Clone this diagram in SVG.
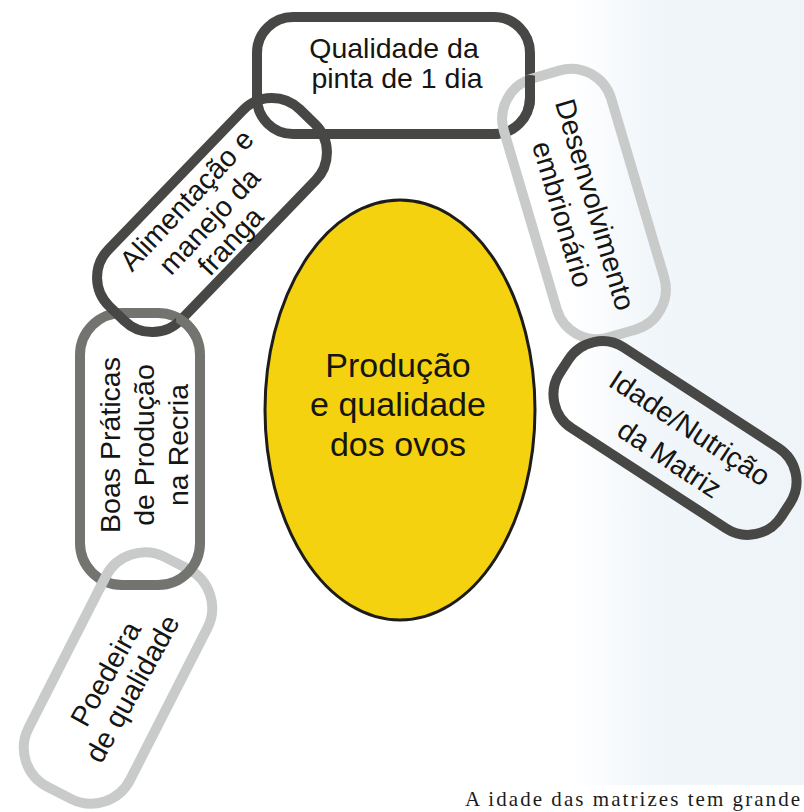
<svg xmlns="http://www.w3.org/2000/svg" xmlns:xlink="http://www.w3.org/1999/xlink" width="804" height="812" viewBox="0 0 804 812">
  <defs>
    <style>
      .lbl { font-family: "Liberation Sans", Arial, sans-serif; font-size: 28.5px; fill: #151514; text-anchor: middle; }
      .egg { font-family: "Liberation Sans", Arial, sans-serif; font-size: 34px; fill: #151514; text-anchor: middle; }
      .link { fill: none; stroke-width: 10; }
      .dark { stroke: #474845; }
      .mid { stroke: #737470; }
      .light { stroke: #c9cbcb; }
    </style>
    <linearGradient id="page" x1="0" y1="0" x2="1" y2="0">
      <stop offset="0" stop-color="#f1f6fa" stop-opacity="0"/>
      <stop offset="0.35" stop-color="#f1f6fa" stop-opacity="1"/>
      <stop offset="1" stop-color="#eef4f8"/>
    </linearGradient>
    <rect id="r-top" x="257" y="17" width="273" height="117" rx="36"/>
    <rect id="r-ali" x="-137" y="-50.5" width="274" height="101" rx="40" transform="translate(212,215) rotate(-46)"/>
    <rect id="r-boas" x="80" y="313" width="120" height="272" rx="42"/>
    <rect id="r-poe" x="-129" y="-57" width="258" height="114" rx="44" transform="translate(118,678) rotate(-63)"/>
    <rect id="r-des" x="-135" y="-56" width="270" height="112" rx="42" transform="translate(584,204) rotate(73.5)"/>
    <rect id="r-ida" x="-132" y="-48" width="264" height="96" rx="40" transform="translate(675,438) rotate(33)"/>
    <clipPath id="c1"><circle cx="108" cy="574" r="17"/></clipPath>
    <clipPath id="c2"><circle cx="193" cy="320" r="17"/></clipPath>
    <clipPath id="c3"><circle cx="530" cy="92" r="17"/></clipPath>
    <clipPath id="c4"><circle cx="650" cy="332" r="17"/></clipPath>
  </defs>

  <rect x="0" y="0" width="804" height="812" fill="#ffffff"/>
  <rect x="570" y="0" width="234" height="785" fill="url(#page)"/>

  <g id="node-poedeira">
    <use xlink:href="#r-poe" class="link light"/>
    <g transform="translate(119.5,681.5) rotate(-61)">
      <text class="lbl" x="0" y="-6">Poedeira</text>
      <text class="lbl" x="0" y="24.5">de qualidade</text>
    </g>
  </g>

  <g id="node-boas">
    <use xlink:href="#r-boas" class="link mid"/>
    <g transform="translate(0,445) rotate(-90)">
      <text class="lbl" x="0" y="120">Boas Práticas</text>
      <text class="lbl" x="0" y="154">de Produção</text>
      <text class="lbl" x="0" y="188">na Recria</text>
    </g>
  </g>

  <g id="node-alimentacao">
    <use xlink:href="#r-ali" class="link dark"/>
    <g transform="translate(211,216) rotate(-47)">
      <text class="lbl" x="-5" y="-19">Alimentação e</text>
      <text class="lbl" x="-5" y="12">manejo da</text>
      <text class="lbl" x="-5" y="41">franga</text>
    </g>
  </g>

  <g id="node-qualidade">
    <use xlink:href="#r-top" class="link dark"/>
    <text class="lbl" x="394" y="57.5">Qualidade da</text>
    <text class="lbl" x="397" y="88">pinta de 1 dia</text>
  </g>

  <g id="node-desenvolvimento">
    <use xlink:href="#r-des" class="link light"/>
    <g transform="translate(580,209) rotate(73.5)">
      <text class="lbl" x="0" y="-6">Desenvolvimento</text>
      <text class="lbl" x="0" y="28">embrionário</text>
    </g>
  </g>

  <g id="node-idade">
    <use xlink:href="#r-ida" class="link dark"/>
    <g transform="translate(679,444.5) rotate(33.4)">
      <text class="lbl" x="0" y="-10">Idade/Nutrição</text>
      <text class="lbl" x="0" y="27">da Matriz</text>
    </g>
  </g>

  <g id="connectors">
    <use xlink:href="#r-poe" class="link light" clip-path="url(#c1)"/>
    <use xlink:href="#r-boas" class="link mid" clip-path="url(#c2)"/>
    <use xlink:href="#r-top" class="link dark" clip-path="url(#c3)"/>
    <use xlink:href="#r-des" class="link light" clip-path="url(#c4)"/>
  </g>

  <g id="node-ovos">
    <ellipse cx="400" cy="410" rx="135" ry="210" fill="#f5d20f" stroke="#1c1c1a" stroke-width="3"/>
    <text class="egg" x="398" y="377">Produção</text>
    <text class="egg" x="398" y="416">e qualidade</text>
    <text class="egg" x="398" y="456">dos ovos</text>
  </g>

  <text x="465" y="806" font-family="'Liberation Serif', 'Times New Roman', serif" font-size="21" fill="#1c1c1a" textLength="335">A idade das matrizes tem grande</text>
</svg>
